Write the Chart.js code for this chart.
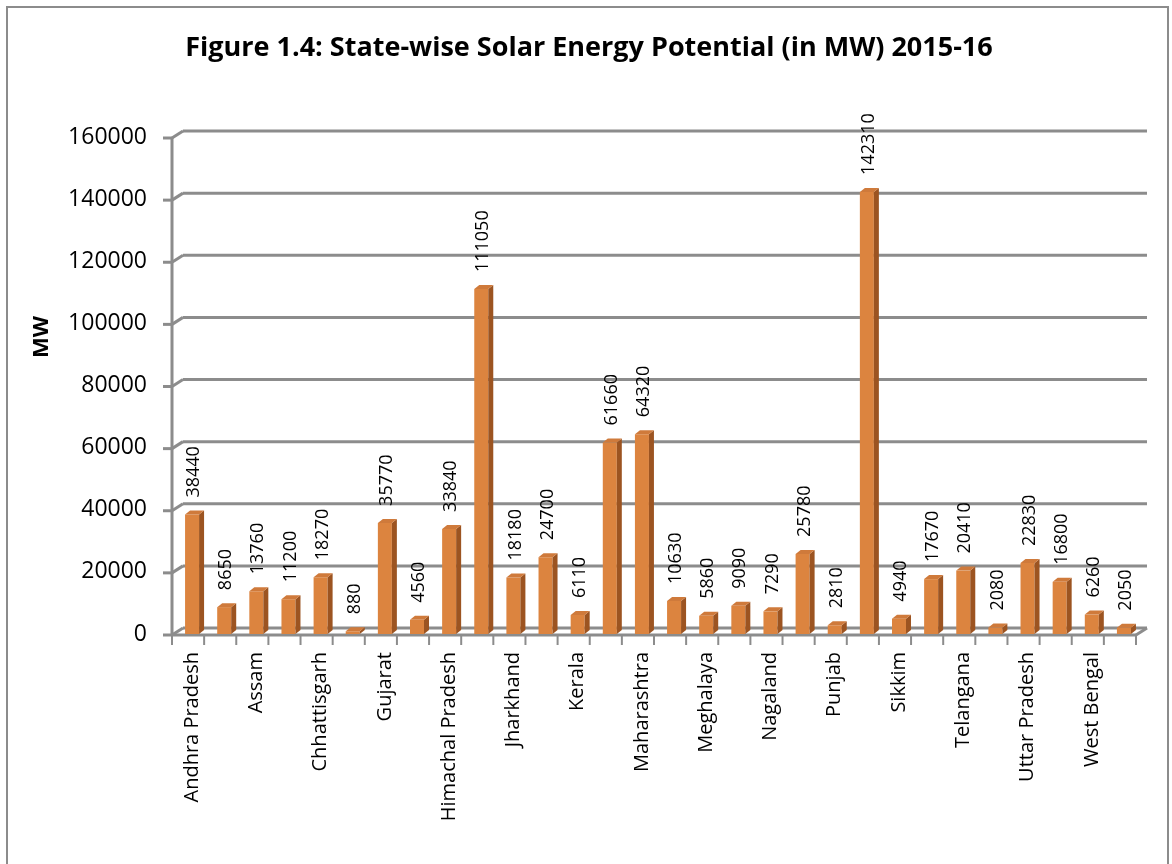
<!DOCTYPE html>
<html lang="en">
<head>
    <meta charset="UTF-8">
    <title>State-wise Solar Energy Potential</title>
    <script src="https://cdn.jsdelivr.net/npm/chart.js"></script>
    <style>
        html, body { margin: 0; padding: 0; background: #fff; }
        #wrap { position: relative; width: 1172px; height: 864px; }
    </style>
</head>
<body>
    <div id="wrap">
        <canvas id="myChart" width="1172" height="864"></canvas>
    </div>
    <script>
        // data
        const states = ['Andhra Pradesh', 'Arunachal Pradesh', 'Assam', 'Bihar', 'Chhattisgarh', 'Goa',
            'Gujarat', 'Haryana', 'Himachal Pradesh', 'Jammu & Kashmir', 'Jharkhand', 'Karnataka',
            'Kerala', 'Madhya Pradesh', 'Maharashtra', 'Manipur', 'Meghalaya', 'Mizoram', 'Nagaland',
            'Odisha', 'Punjab', 'Rajasthan', 'Sikkim', 'Tamil Nadu', 'Telangana', 'Tripura',
            'Uttar Pradesh', 'Uttarakhand', 'West Bengal', 'Delhi'];
        const potentialMW = [38440, 8650, 13760, 11200, 18270, 880, 35770, 4560, 33840, 111050, 18180, 24700,
            6110, 61660, 64320, 10630, 5860, 9090, 7290, 25780, 2810, 142310, 4940, 17670, 20410, 2080,
            22830, 16800, 6260, 2050];
        const yTicks = [0, 20000, 40000, 60000, 80000, 100000, 120000, 140000, 160000];

        const gridColor = '#8c8c8c';
        // offsets for the fake 3d look (front edge / back wall)
        const FX = -4, FY = 1, BX = 7, BY = -6;
        const DX = 5, DY = -4; // bar depth

        function line(ctx, x1, y1, x2, y2) {
            ctx.beginPath();
            ctx.moveTo(x1, y1);
            ctx.lineTo(x2, y2);
            ctx.stroke();
        }

        const excel3d = {
            id: 'excel3d',
            beforeDraw(chart) {
                const ctx = chart.ctx;
                ctx.save();
                ctx.fillStyle = '#fff';
                ctx.fillRect(0, 0, chart.width, chart.height);
                ctx.strokeStyle = gridColor;
                ctx.lineWidth = 2;
                ctx.strokeRect(7, 7, 1161, 880);
                ctx.restore();
            },
            beforeDatasetsDraw(chart) {
                const { ctx, chartArea: a, scales: { x, y } } = chart;
                ctx.save();
                ctx.strokeStyle = gridColor;
                ctx.lineWidth = 3;
                yTicks.forEach(v => {
                    const py = y.getPixelForValue(v);
                    line(ctx, a.left + BX, py + BY, a.right + BX, py + BY);
                    line(ctx, a.left + FX, py + FY, a.left + BX, py + BY);
                    line(ctx, a.left + FX - 9, py + FY, a.left + FX, py + FY);
                });
                line(ctx, a.left + FX, y.getPixelForValue(160000) + FY, a.left + FX, a.bottom + FY + 1);
                line(ctx, a.left + FX, a.bottom + FY, a.right + FX, a.bottom + FY);
                line(ctx, a.right + FX, a.bottom + FY, a.right + BX, a.bottom + BY);
                // category ticks
                ctx.lineWidth = 2;
                const step = x.getPixelForValue(1) - x.getPixelForValue(0);
                const x0 = x.getPixelForValue(0) - step / 2;
                for (let i = 0; i <= states.length; i++) {
                    const px = x0 + i * step + FX;
                    line(ctx, px, a.bottom + FY, px, a.bottom + FY + 10);
                }
                ctx.restore();
            },
            afterDatasetsDraw(chart) {
                const ctx = chart.ctx;
                const meta = chart.getDatasetMeta(0);
                ctx.save();
                meta.data.forEach((bar, i) => {
                    const { x: bx, y: by, base, width: w } = bar.getProps(['x', 'y', 'base', 'width'], true);
                    const l = bx - w / 2, r = bx + w / 2;
                    // side face
                    ctx.fillStyle = '#9c5421';
                    ctx.beginPath();
                    ctx.moveTo(r, by);
                    ctx.lineTo(r + DX, by + DY);
                    ctx.lineTo(r + DX, base + DY);
                    ctx.lineTo(r, base);
                    ctx.closePath();
                    ctx.fill();
                    // top face
                    ctx.fillStyle = '#cf7a3b';
                    ctx.beginPath();
                    ctx.moveTo(l, by);
                    ctx.lineTo(l + DX, by + DY);
                    ctx.lineTo(r + DX, by + DY);
                    ctx.lineTo(r, by);
                    ctx.closePath();
                    ctx.fill();
                    // value label
                    ctx.save();
                    ctx.translate(bx + 2, by - 17);
                    ctx.rotate(-Math.PI / 2);
                    ctx.fillStyle = '#000';
                    ctx.font = '18px "Open Sans"';
                    ctx.textAlign = 'left';
                    ctx.textBaseline = 'middle';
                    ctx.fillText(String(potentialMW[i]), 0, 0);
                    ctx.restore();
                });
                // axis title
                ctx.translate(42, 337);
                ctx.rotate(-Math.PI / 2);
                ctx.fillStyle = '#000';
                ctx.font = 'bold 22px "Open Sans"';
                ctx.textAlign = 'center';
                ctx.textBaseline = 'middle';
                ctx.fillText('MW', 0, 0);
                ctx.restore();
            }
        };

        const ctx = document.getElementById('myChart').getContext('2d');
        new Chart(ctx, {
            type: 'bar',
            plugins: [excel3d],
            data: {
                labels: states,
                datasets: [{
                    label: 'MW',
                    data: potentialMW,
                    backgroundColor: '#dc843f',
                    borderWidth: 0,
                    categoryPercentage: 1,
                    barPercentage: 0.436
                }]
            },
            options: {
                responsive: false,
                animation: false,
                layout: { padding: { left: 38, right: 32, top: 0, bottom: 0 } },
                plugins: {
                    legend: { display: false },
                    tooltip: { enabled: false },
                    title: {
                        display: true,
                        text: 'Figure 1.4: State-wise Solar Energy Potential (in MW) 2015-16',
                        color: '#000',
                        font: { family: 'Open Sans', size: 27, weight: 'bold', lineHeight: 1.2 },
                        padding: { top: 32, bottom: 72.6 }
                    }
                },
                scales: {
                    x: {
                        grid: { display: false, drawTicks: false },
                        border: { display: false },
                        ticks: {
                            autoSkip: false,
                            maxRotation: 90,
                            minRotation: 90,
                            padding: 18,
                            color: '#000',
                            font: { family: 'Open Sans', size: 20 },
                            callback: (v, i) => i % 2 === 0 ? states[i] : ''
                        },
                        afterFit: s => { s.height = 230; }
                    },
                    y: {
                        min: 0,
                        max: 160000,
                        grid: { display: false, drawTicks: false },
                        border: { display: false },
                        ticks: {
                            stepSize: 20000,
                            padding: 29,
                            color: '#000',
                            font: { family: 'Open Sans', size: 23 },
                            callback: v => String(v)
                        },
                        afterFit: s => { s.width = 138; }
                    }
                }
            }
        });
    </script>
</body>
</html>
